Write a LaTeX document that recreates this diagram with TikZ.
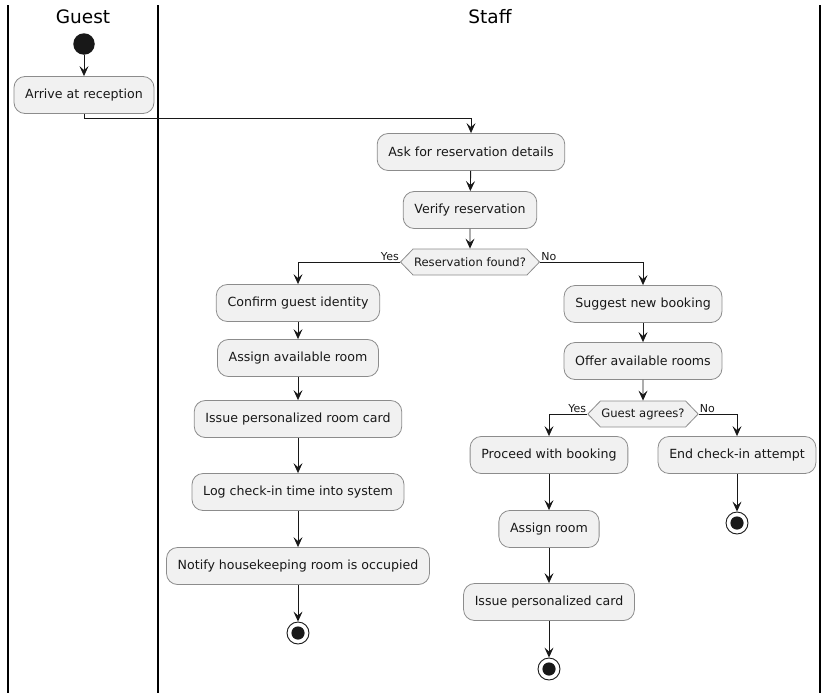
\documentclass[tikz,border=0pt]{standalone}
\usepackage{fontspec}
\setmainfont{DejaVu Sans}
\usetikzlibrary{arrows.meta,shapes.symbols}
\definecolor{boxfill}{HTML}{F1F1F1}
\definecolor{boxline}{HTML}{8C8C8C}
\definecolor{ink}{HTML}{181818}
\tikzset{
  act/.style={draw=boxline, fill=boxfill, line width=0.8pt, rounded corners=11pt,
    minimum height=37pt, inner xsep=11.2pt, inner ysep=0pt,
    font=\fontsize{12.6}{14}\selectfont, text=ink},
  dec/.style={signal, signal to=west and east, signal pointer angle=92,
    draw=boxline, fill=boxfill, line width=0.8pt, minimum height=26pt,
    inner xsep=1pt, inner ysep=0pt, font=\fontsize{11.6}{13}\selectfont, text=ink},
  flow/.style={draw=ink, line width=0.9pt, -{Stealth[length=10pt,width=9pt,inset=4pt]}},
  lbl/.style={font=\fontsize{11}{12}\selectfont, text=ink, inner sep=0pt},
  startdot/.style={circle, fill=ink, minimum size=21.5pt, inner sep=0pt},
  enddot/.style={circle, draw=ink, fill=white, line width=0.9pt, minimum size=22pt, inner sep=0pt,
    path picture={\fill[ink] (path picture bounding box.center) circle (6.6pt);}},
  lane/.style={draw=black, line width=1.6pt},
  title/.style={font=\fontsize{18.5}{20}\selectfont, text=black},
}
\begin{document}
\begin{tikzpicture}[x=1pt,y=-1pt]
\useasboundingbox (0,0) rectangle (827,699);
% lanes
\draw[lane] (8,5) -- (8,693);
\draw[lane] (158,5) -- (158,693);
\draw[lane] (820,5) -- (820,693);
\node[title] (tg) at (83,17) {Guest};
\node[title] (ts) at (490,17) {Staff};
% nodes
\node[startdot] (start) at (84,44) {};
\node[act] (arrive) at (84,95) {Arrive at reception};
\node[act] (ask) at (471,152) {Ask for reservation details};
\node[act] (verify) at (470,210) {Verify reservation};
\node[dec] (d1) at (470,262) {Reservation found?};
\node[act] (conf) at (298,303) {Confirm guest identity};
\node[act] (assign) at (298,358) {Assign available room};
\node[act] (issue) at (298,419) {Issue personalized room card};
\node[act] (log) at (298,492) {Log check-in time into system};
\node[act] (notify) at (298,566) {Notify housekeeping room is occupied};
\node[enddot] (end1) at (298,633) {};
\node[act] (sug) at (643,304) {Suggest new booking};
\node[act] (offer) at (643,361) {Offer available rooms};
\node[dec] (d2) at (643,414) {Guest agrees?};
\node[act] (proc) at (549,455) {Proceed with booking};
\node[act] (endc) at (737,455) {End check-in attempt};
\node[enddot] (end2) at (737,523) {};
\node[act] (aroom) at (549,529) {Assign room};
\node[act] (icard) at (549,602) {Issue personalized card};
\node[enddot] (end3) at (549,669) {};
% connectors
\draw[flow] (start) -- (arrive);
\draw[flow] (arrive.south) -- ++(0,5) -| (ask.north);
\draw[flow] (ask) -- (verify);
\draw[flow] (verify) -- (d1);
\draw[flow] (d1.west) -| (conf.north);
\draw[flow] (d1.east) -| (sug.north);
\draw[flow] (conf) -- (assign);
\draw[flow] (assign) -- (issue);
\draw[flow] (issue) -- (log);
\draw[flow] (log) -- (notify);
\draw[flow] (notify) -- (end1);
\draw[flow] (sug) -- (offer);
\draw[flow] (offer) -- (d2);
\draw[flow] (d2.west) -| (proc.north);
\draw[flow] (d2.east) -| (endc.north);
\draw[flow] (endc) -- (end2);
\draw[flow] (proc) -- (aroom);
\draw[flow] (aroom) -- (icard);
\draw[flow] (icard) -- (end3);
% labels
\node[lbl, anchor=south east] (y1) at ([xshift=-1pt,yshift=1pt]d1.west) {Yes};
\node[lbl, anchor=south west] (n1) at ([xshift=1pt,yshift=1pt]d1.east) {No};
\node[lbl, anchor=south east] (y2) at ([xshift=-1pt,yshift=1pt]d2.west) {Yes};
\node[lbl, anchor=south west] (n2) at ([xshift=1pt,yshift=1pt]d2.east) {No};
\end{tikzpicture}
\end{document}
